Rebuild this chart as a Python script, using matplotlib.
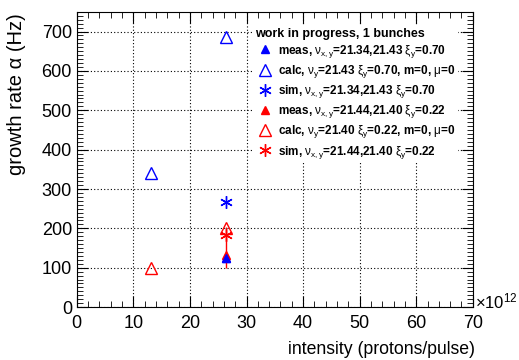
import numpy as np
import matplotlib.pyplot as plt
from matplotlib.ticker import MultipleLocator

plt.rcParams['font.family'] = ['Liberation Sans', 'DejaVu Sans']
plt.rcParams['mathtext.fontset'] = 'custom'
plt.rcParams['mathtext.rm'] = 'Liberation Sans'
plt.rcParams['mathtext.it'] = 'Liberation Sans'
plt.rcParams['mathtext.bf'] = 'Liberation Sans:bold'

# intensity in units of 1e12 protons/pulse, growth rate in Hz
blue_meas_x = [26.4]
blue_meas_y = [124]
blue_calc_x = [13.2, 26.4]
blue_calc_y = [340, 685]
blue_sim_x = [26.4]
blue_sim_y = [268]
red_meas_x = [26.4]
red_meas_y = [132]
red_meas_err = [[32], [72]]
red_calc_x = [13.2, 26.4]
red_calc_y = [100, 200]
red_sim_x = [26.4]
red_sim_y = [183]

labels = [
    r"meas, $\nu_{x,y}$=21.34,21.43 $\xi_{y}$=0.70",
    r"calc, $\nu_{y}$=21.43 $\xi_{y}$=0.70, m=0, $\mu$=0",
    r"sim, $\nu_{x,y}$=21.34,21.43 $\xi_{y}$=0.70",
    r"meas, $\nu_{x,y}$=21.44,21.40 $\xi_{y}$=0.22",
    r"calc, $\nu_{y}$=21.40 $\xi_{y}$=0.22, m=0, $\mu$=0",
    r"sim, $\nu_{x,y}$=21.44,21.40 $\xi_{y}$=0.22",
]

fig = plt.figure(figsize=(5.19, 3.6), dpi=100)
ax = fig.add_axes([0.148, 0.147, 0.763, 0.82])

h = []
h.append(ax.plot(blue_meas_x, blue_meas_y, '^', color='blue', ms=6, ls='none')[0])
h.append(ax.plot(blue_calc_x, blue_calc_y, '^', mfc='none', mec='blue', ms=8, ls='none')[0])
h.append(ax.plot(blue_sim_x, blue_sim_y, marker=(6, 2, 0), color='blue', ms=9, ls='none', mew=1)[0])
ax.errorbar(red_meas_x, red_meas_y, yerr=red_meas_err, fmt='none', ecolor='red', elinewidth=1, capsize=0)
h.append(ax.plot(red_meas_x, red_meas_y, '^', color='red', ms=6, ls='none')[0])
h.append(ax.plot(red_calc_x, red_calc_y, '^', mfc='none', mec='red', ms=8, ls='none')[0])
h.append(ax.plot(red_sim_x, red_sim_y, marker=(6, 2, 0), color='red', ms=9, ls='none', mew=1)[0])
ax.plot(blue_meas_x, blue_meas_y, '^', color='blue', ms=6, ls='none')

ax.set_xlim(0, 70)
ax.set_ylim(0, 750)
ax.xaxis.set_major_locator(MultipleLocator(10))
ax.xaxis.set_minor_locator(MultipleLocator(2))
ax.yaxis.set_major_locator(MultipleLocator(100))
ax.yaxis.set_minor_locator(MultipleLocator(10))
ax.tick_params(which='both', direction='in', top=True, right=True, labelsize=13)
ax.tick_params(axis='x', pad=6)
ax.tick_params(which='major', length=8)
ax.tick_params(which='minor', length=4)
ax.grid(True, which='major', color='black', ls=(0, (1, 2)), lw=0.8)

ax.set_xlabel("intensity (protons/pulse)", fontsize=12.7, ha='right')
ax.xaxis.set_label_coords(1.005, -0.115)
ax.set_ylabel("growth rate α (Hz)", fontsize=14.5, ha='right')
ax.yaxis.set_label_coords(-0.128, 0.995)
ax.text(1.005, 0.018, r"$\times10^{12}$", transform=ax.transAxes, fontsize=12, ha='left', va='center')

leg = ax.legend(h, labels, loc='upper left', bbox_to_anchor=(0.43, 0.975), frameon=True,
                title="work in progress, 1 bunches", prop={'size': 8.5, 'weight': 'bold'},
                title_fontproperties={'size': 9, 'weight': 'bold'},
                handletextpad=0.2, labelspacing=0.27, borderpad=0.2, handlelength=1.7)
leg._legend_box.align = 'left'
leg.get_frame().set_facecolor('white')
leg.get_frame().set_edgecolor('none')
leg.get_frame().set_alpha(1)

fig.savefig("out.png", dpi=100)
